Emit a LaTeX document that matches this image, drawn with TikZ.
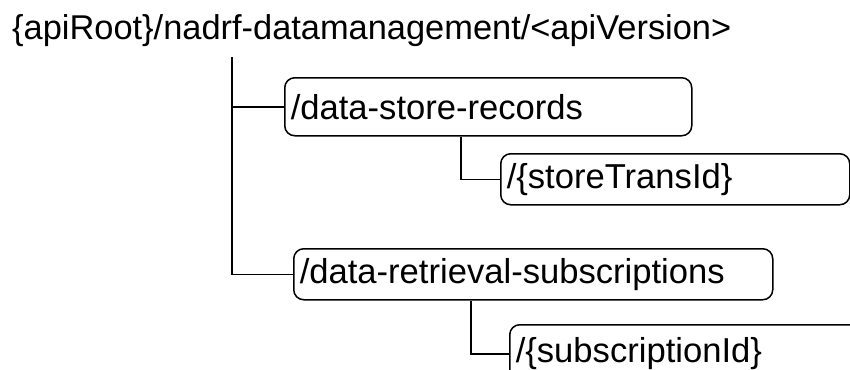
\documentclass[tikz,border=0pt]{standalone}
\usepackage{fontspec}
\setmainfont{Liberation Sans}
\usetikzlibrary{positioning}
\tikzset{res/.style = {draw, line width = 1.5, rounded corners = 10, anchor = north west,
    align = left, inner xsep = 6, inner ysep = 0, font = \fontsize{34.6}{40}\selectfont}}
\tikzset{lnk/.style = {line width = 1.5}}

\begin{document}
\begin{tikzpicture}[x = 1pt, y = -1pt]
      \useasboundingbox (0, 0) rectangle (850, 369);
      \clip (0, 0) rectangle (850, 369);
      \node [anchor = base west, inner sep = 0, font = \fontsize{34.4}{40}\selectfont] (root) at (12, 40)
        {\{apiRoot\}/nadrf-datamanagement/<apiVersion>};

      \node [res, text width = 395pt, minimum height = 58] (recs) at (284, 77) {/data-store-records};
      \node [res, text width = 337pt, minimum height = 51] (recid) at (500, 153) {/\{storeTransId\}};
      \node [res, text width = 467pt, minimum height = 51] (subs) at (293, 248) {/data-retrieval-subscriptions};
      \node [res, text width = 388pt, minimum height = 58] (subid) at (509, 324) {/\{subscriptionId\}};

      \coordinate (trunk) at (232, 57);
      \draw [lnk] (trunk) |- (subs.west);
      \draw [lnk] (trunk |- recs.west) -- (recs.west);
      \draw [lnk] ([xshift = 177]recs.south west) |- (recid.west);
      \draw [lnk] ([xshift = 178]subs.south west) |- (subid.west);

    \end{tikzpicture}
\end{document}
